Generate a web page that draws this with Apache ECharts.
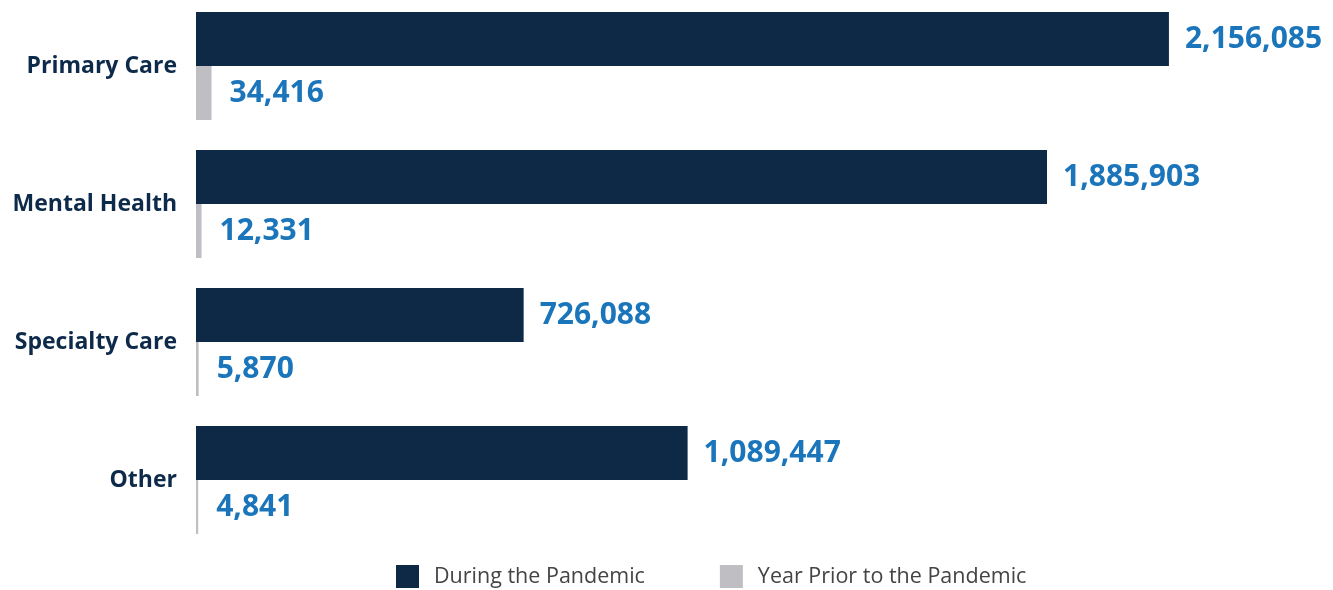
<!DOCTYPE html>
<html>
<head>
<meta charset="utf-8">
<script src="https://cdn.jsdelivr.net/npm/echarts@6/dist/echarts.min.js"></script>
<style>
  html, body { margin: 0; padding: 0; background: #fff; overflow: hidden; }
  #main { position: relative; top: -3px; width: 1333px; height: 593px; }
</style>
</head>
<body>
<div id="main"></div>
<script>
const categories = ["Primary Care", "Mental Health", "Specialty Care", "Other"];
const duringPandemic = [2156085, 1885903, 726088, 1089447];
const yearPrior = [34416, 12331, 5870, 4841];
const seriesNames = ["During the Pandemic", "Year Prior to the Pandemic"];

const chart = echarts.init(document.getElementById("main"));

const valueLabel = (dist) => ({
  show: true,
  position: "right",
  distance: dist,
  color: "#1b75bb",
  fontFamily: "Open Sans",
  fontWeight: "bold",
  fontSize: 30,
  formatter: (p) => p.value.toLocaleString("en-US"),
});

const option = {
  animation: false,
  backgroundColor: "#fff",
  grid: {
    left: 196,
    right: 54,
    top: 0,
    height: 552,
  },
  legend: {
    data: seriesNames,
    left: 396,
    top: 568,
    padding: 0,
    itemWidth: 23,
    itemHeight: 23,
    itemGap: 75,
    icon: "rect",
    textStyle: {
      color: "#444",
      fontFamily: "Open Sans",
      fontSize: 21.5,
      padding: [0, 0, 0, 10],
    },
  },
  xAxis: {
    type: "value",
    min: 0,
    max: 2400000,
    show: false,
  },
  yAxis: {
    type: "category",
    data: categories,
    inverse: true,
    axisLine: { show: false },
    axisTick: { show: false },
    axisLabel: {
      margin: 19,
      color: "#0d2a4a",
      fontFamily: "Open Sans",
      fontWeight: "bold",
      fontSize: 23,
      padding: [0, 0, 14, 0],
    },
  },
  series: [
    {
      name: seriesNames[0],
      type: "bar",
      barWidth: 54,
      barGap: "0%",
      itemStyle: { color: "#0d2946" },
      label: valueLabel(16),
      data: duringPandemic,
    },
    {
      name: seriesNames[1],
      type: "bar",
      barWidth: 54,
      barGap: "0%",
      itemStyle: { color: "#bfbfc3" },
      label: valueLabel(18),
      data: yearPrior,
    },
  ],
};
chart.setOption(option);
</script>
</body>
</html>
